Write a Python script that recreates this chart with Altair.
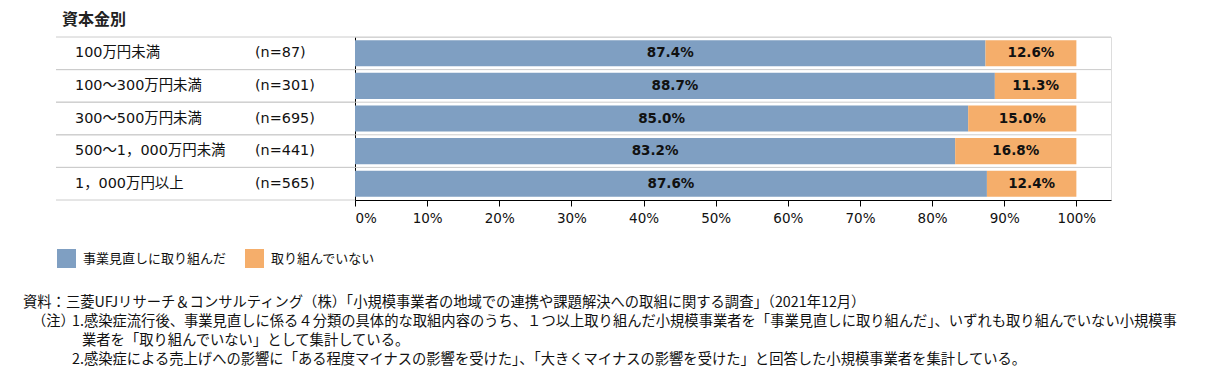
import altair as alt
import pandas as pd

categories = ["100万円未満", "100～300万円未満", "300～500万円未満", "500～1，000万円未満", "1，000万円以上"]
n_labels = ["(n=87)", "(n=301)", "(n=695)", "(n=441)", "(n=565)"]
series_names = ["事業見直しに取り組んだ", "取り組んでいない"]
done = [87.4, 88.7, 85.0, 83.2, 87.6]
not_done = [12.6, 11.3, 15.0, 16.8, 12.4]
tick_values = [0, 0.1, 0.2, 0.3, 0.4, 0.5, 0.6, 0.7, 0.8, 0.9, 1.0]
colors = ["#7F9FC2", "#F5AE6B"]

title_text = "資本金別"
note_lines = [
    "資料：三菱UFJリサーチ＆コンサルティング（株）「小規模事業者の地域での連携や課題解決への取組に関する調査」（2021年12月）",
    "（注）",
    "1.感染症流行後、事業見直しに係る４分類の具体的な取組内容のうち、１つ以上取り組んだ小規模事業者を「事業見直しに取り組んだ」、いずれも取り組んでいない小規模事",
    "業者を「取り組んでいない」として集計している。",
    "2.感染症による売上げへの影響に「ある程度マイナスの影響を受けた」、「大きくマイナスの影響を受けた」と回答した小規模事業者を集計している。",
]

rows = []
for i, c in enumerate(categories):
    rows.append({"cat": c, "n": n_labels[i], "series": series_names[0], "order": 0, "value": done[i] / 100})
    rows.append({"cat": c, "n": n_labels[i], "series": series_names[1], "order": 1, "value": not_done[i] / 100})
df = pd.DataFrame(rows)
cat_df = pd.DataFrame({"cat": categories, "n": n_labels})

FONT = "DejaVu Sans, Noto Sans CJK JP"
JFONT = "Noto Sans CJK JP"
W, H = 756, 163

yscale = alt.Scale(domain=categories, paddingInner=0, paddingOuter=0)
xscale = alt.Scale(domain=[0, 1.048], nice=False)

base = alt.Chart(df).transform_stack(
    stack="value", groupby=["cat"], as_=["x0", "x1"], sort=[alt.SortField("order")]
).transform_calculate(mid="(datum.x0 + datum.x1) / 2")

bars = base.mark_bar(height=alt.RelativeBandSize(0.8)).encode(
    x=alt.X("x0:Q", scale=xscale,
            axis=alt.Axis(values=tick_values, format=".0%", grid=False, title=None,
                          domainColor="#000000", tickColor="#000000", tickSize=6,
                          labelFontSize=13.5, labelColor="#111111", labelFont=FONT,
                          labelPadding=5)),
    x2="x1:Q",
    y=alt.Y("cat:N", scale=yscale,
            axis=alt.Axis(labels=False, ticks=False, title=None, grid=False,
                          domainColor="#000000")),
    color=alt.Color("series:N", scale=alt.Scale(domain=series_names, range=colors),
                    legend=alt.Legend(title=None, orient="none", direction="horizontal",
                                      legendX=-298, legendY=212, symbolType="square",
                                      symbolSize=361, symbolStrokeWidth=0, symbolOpacity=1,
                                      labelFontSize=13, labelFont=JFONT, labelColor="#111111",
                                      labelOffset=7, columnPadding=18)),
)

labels = base.mark_text(fontWeight="bold", fontSize=13.5, font=FONT, color="#111111").encode(
    x=alt.X("mid:Q", scale=xscale),
    y=alt.Y("cat:N", scale=yscale),
    text=alt.Text("value:Q", format=".1%"),
)

sep_top = alt.Chart(cat_df).mark_rule(color="#CCCCCC", strokeWidth=1).encode(
    y=alt.Y("cat:N", scale=yscale, bandPosition=0),
    x=alt.value(-299), x2=alt.value(W),
)
sep_bot = alt.Chart(cat_df).mark_rule(color="#CCCCCC", strokeWidth=1).encode(
    y=alt.Y("cat:N", scale=yscale, bandPosition=1),
    x=alt.value(-299), x2=alt.value(0),
)

cat_text = alt.Chart(cat_df).mark_text(align="left", fontSize=14.4, font=FONT, color="#111111").encode(
    y=alt.Y("cat:N", scale=yscale), x=alt.value(-280), text="cat:N",
)
n_text = alt.Chart(cat_df).mark_text(align="left", fontSize=14.4, font=FONT, color="#111111").encode(
    y=alt.Y("cat:N", scale=yscale), x=alt.value(-100), text="n:N",
)

title = alt.Chart(alt.Data(values=[{"t": title_text}])).mark_text(
    align="left", baseline="middle", fontSize=16, fontWeight="bold", font=JFONT, color="#222222"
).encode(x=alt.value(-293), y=alt.value(-17), text="t:N")

note_pos = [(-332, 266), (-323, 285), (-283, 285), (-273, 304), (-283, 323)]
notes = []
for (dx, dy), line in zip(note_pos, note_lines):
    notes.append(alt.Chart(alt.Data(values=[{"t": line}])).mark_text(
        align="left", baseline="middle", fontSize=14.3, font=JFONT, color="#111111"
    ).encode(x=alt.value(dx), y=alt.value(dy), text="t:N"))

chart = alt.layer(sep_top, sep_bot, bars, labels, cat_text, n_text, title, *notes).properties(
    width=W, height=H,
    padding={"left": 347, "top": 29, "right": 80, "bottom": 172},
    autosize=alt.AutoSizeParams(type="none"),
).configure_view(stroke="#CCCCCC", strokeWidth=1).configure(background="#FFFFFF")

chart.save("out.html", embed_options={"renderer": "svg", "actions": False})
